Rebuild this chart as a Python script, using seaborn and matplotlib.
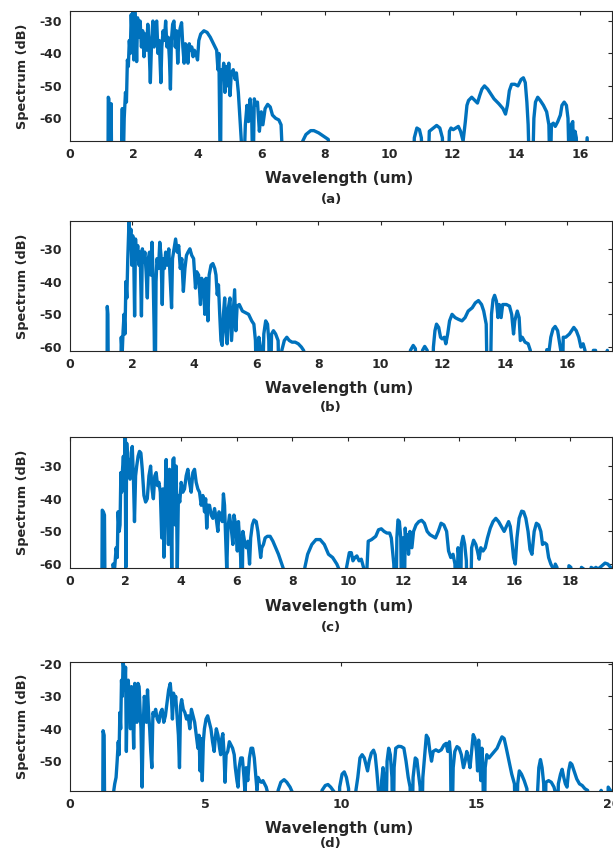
import numpy as np
import pandas as pd
import matplotlib
matplotlib.use('Agg')
import matplotlib.pyplot as plt
import seaborn as sns

sns.set_theme(style='white')
plt.rcParams['font.family'] = ['DejaVu Sans']
plt.rcParams['font.weight'] = 'bold'
plt.rcParams['axes.unicode_minus'] = False

# spectra: (wavelength um, dB); -80 = below the axis
spec_a = [
    (1.00, -80), (1.19, -80), (1.20, -53.5), (1.22, -54), (1.23, -80), (1.27, -80), (1.29, -55.5), (1.31, -80),
    (1.60, -80), (1.64, -57), (1.66, -80), (1.70, -60), (1.74, -52), (1.77, -55), (1.80, -42), (1.83, -44),
    (1.86, -36), (1.89, -40), (1.92, -28), (1.95, -35), (1.98, -27), (2.00, -42), (2.03, -26.8), (2.06, -31),
    (2.09, -42.5), (2.12, -29), (2.16, -35), (2.20, -30), (2.24, -38), (2.28, -33), (2.32, -41), (2.36, -34),
    (2.40, -39), (2.44, -31), (2.48, -38), (2.52, -49), (2.56, -36), (2.60, -30), (2.64, -38), (2.68, -31),
    (2.72, -30), (2.76, -40), (2.80, -36), (2.85, -49), (2.88, -38), (2.92, -33), (2.96, -36), (3.00, -30),
    (3.04, -38), (3.08, -35), (3.12, -42), (3.15, -51), (3.18, -36), (3.22, -31), (3.26, -30), (3.30, -38),
    (3.34, -33), (3.38, -43), (3.42, -34), (3.46, -32), (3.50, -30.5), (3.54, -38), (3.58, -43), (3.62, -37),
    (3.66, -38), (3.70, -43), (3.74, -37), (3.78, -39), (3.82, -38), (3.86, -41), (3.90, -39), (3.95, -40),
    (4.00, -42), (4.04, -36), (4.10, -34), (4.20, -33), (4.30, -33.5), (4.40, -35), (4.50, -37), (4.60, -39),
    (4.64, -45), (4.67, -40), (4.70, -66), (4.72, -80), (4.74, -45), (4.78, -48), (4.82, -43), (4.86, -52),
    (4.90, -44), (4.94, -50), (4.98, -43), (5.02, -53), (5.06, -46), (5.12, -45), (5.18, -48), (5.22, -46),
    (5.28, -52), (5.33, -60), (5.38, -68), (5.44, -80), (5.50, -62), (5.55, -56), (5.60, -61), (5.65, -54),
    (5.70, -60), (5.74, -80), (5.78, -54), (5.83, -56), (5.88, -55), (5.94, -64), (6.00, -58), (6.05, -62),
    (6.12, -57), (6.20, -55.7), (6.28, -56.5), (6.35, -59), (6.45, -60), (6.55, -60.5), (6.62, -62), (6.70, -80),
    (7.25, -80), (7.30, -67), (7.40, -65), (7.55, -63.8), (7.65, -63.8), (7.80, -64.5), (7.95, -65.5), (8.10, -66.5),
    (8.20, -80), (10.75, -80), (10.80, -66), (10.88, -63), (10.96, -63.5), (11.02, -66), (11.08, -80), (11.22, -80),
    (11.27, -64), (11.40, -63), (11.50, -62.2), (11.60, -63), (11.68, -66), (11.72, -80), (11.85, -80), (11.90, -64),
    (11.95, -63), (12.02, -63.5), (12.10, -63), (12.18, -62.5), (12.25, -64), (12.33, -67), (12.40, -61), (12.45, -56),
    (12.50, -54.5), (12.60, -53.5), (12.70, -54.5), (12.78, -55.3), (12.85, -53), (12.92, -51), (13.00, -50),
    (13.10, -51), (13.20, -52.5), (13.30, -54), (13.45, -55.5), (13.58, -57), (13.66, -58.7), (13.72, -56),
    (13.78, -51.5), (13.85, -49.5), (13.95, -49.5), (14.05, -50), (14.15, -48), (14.22, -47.5), (14.28, -49),
    (14.33, -55), (14.37, -62), (14.42, -80), (14.50, -80), (14.55, -60), (14.60, -55), (14.67, -53.5),
    (14.75, -54.5), (14.85, -56), (14.95, -58), (15.02, -62), (15.06, -80), (15.10, -62), (15.16, -61.5),
    (15.22, -62.5), (15.30, -61), (15.38, -59), (15.43, -56), (15.50, -55), (15.57, -56), (15.62, -60),
    (15.67, -80), (15.72, -62), (15.77, -61), (15.81, -80), (15.84, -64), (15.88, -66), (15.92, -80),
    (16.15, -80), (16.22, -66), (16.28, -80), (17.0, -80)]

spec_b = [
    (1.00, -80), (1.19, -80), (1.20, -47.6), (1.22, -50), (1.24, -80),
    (1.62, -80), (1.65, -57), (1.68, -62), (1.71, -55), (1.74, -50), (1.77, -56), (1.80, -40), (1.83, -45),
    (1.86, -33), (1.90, -21.5), (1.93, -28), (1.96, -24), (1.99, -35), (2.02, -26), (2.05, -31), (2.08, -50.5),
    (2.11, -27), (2.14, -33), (2.18, -29), (2.22, -35), (2.26, -31), (2.30, -50.5), (2.33, -30), (2.37, -34),
    (2.41, -31), (2.45, -37), (2.49, -45), (2.52, -33), (2.56, -31), (2.60, -38), (2.64, -28), (2.68, -40),
    (2.71, -55), (2.74, -80), (2.77, -40), (2.80, -33), (2.85, -36), (2.89, -28), (2.93, -32), (2.97, -47),
    (3.00, -33), (3.04, -36), (3.08, -31), (3.13, -35), (3.18, -30), (3.22, -38), (3.27, -48), (3.30, -33),
    (3.35, -30), (3.40, -27), (3.45, -31), (3.50, -29), (3.55, -36), (3.60, -33), (3.65, -43), (3.70, -36),
    (3.75, -32), (3.80, -31), (3.86, -30), (3.92, -32), (3.98, -33), (4.04, -42), (4.08, -37), (4.14, -38),
    (4.20, -47), (4.24, -39), (4.30, -41), (4.34, -50), (4.38, -39), (4.44, -52), (4.48, -38), (4.54, -35),
    (4.60, -34.5), (4.66, -36), (4.70, -38), (4.74, -44), (4.78, -41), (4.82, -50), (4.86, -58), (4.90, -59.5),
    (4.94, -50), (4.98, -45), (5.02, -55), (5.06, -59), (5.10, -48), (5.15, -45), (5.20, -58), (5.25, -50),
    (5.30, -42.5), (5.34, -55), (5.38, -47.5), (5.45, -47), (5.55, -49), (5.65, -49.5), (5.75, -50), (5.85, -52),
    (5.92, -53), (5.97, -58), (6.02, -80), (6.08, -57), (6.13, -60), (6.18, -80), (6.24, -56), (6.30, -52),
    (6.36, -53), (6.40, -58), (6.44, -80), (6.49, -56), (6.55, -55), (6.62, -56), (6.70, -58), (6.75, -80),
    (6.82, -61), (6.90, -58), (6.98, -57), (7.06, -58), (7.15, -58.5), (7.25, -58.5), (7.35, -59), (7.45, -60),
    (7.52, -61), (7.55, -62), (7.58, -80),
    (10.90, -80), (10.96, -61), (11.05, -59.5), (11.12, -60.5), (11.18, -80), (11.30, -80), (11.35, -61),
    (11.42, -59.8), (11.50, -61), (11.55, -80), (11.65, -80), (11.70, -60), (11.75, -55), (11.80, -53),
    (11.87, -54), (11.93, -57), (11.98, -57.5), (12.05, -57), (12.10, -59), (12.16, -56), (12.22, -52),
    (12.30, -50), (12.40, -51), (12.50, -51.5), (12.62, -52), (12.72, -51), (12.82, -49), (12.95, -48),
    (13.05, -46.5), (13.15, -45.8), (13.25, -47), (13.32, -49), (13.40, -53), (13.45, -80), (13.52, -80),
    (13.57, -50), (13.62, -45.5), (13.67, -44.2), (13.73, -46), (13.78, -51), (13.82, -47), (13.88, -51),
    (13.93, -47), (14.05, -47), (14.15, -47.5), (14.22, -50), (14.28, -56), (14.32, -52), (14.40, -49),
    (14.46, -51), (14.50, -58), (14.56, -57), (14.65, -58.5), (14.75, -59), (14.82, -61), (14.87, -80),
    (15.30, -80), (15.35, -60.8), (15.42, -61.5), (15.48, -57), (15.55, -54.5), (15.62, -53.7), (15.70, -55),
    (15.75, -58), (15.80, -61), (15.84, -80), (15.88, -57), (15.96, -57), (16.08, -56), (16.22, -54),
    (16.30, -55), (16.38, -57), (16.45, -60), (16.52, -59), (16.58, -61), (16.63, -80), (16.82, -80),
    (16.85, -61), (16.92, -61), (16.98, -80), (17.25, -80), (17.30, -61), (17.35, -80), (17.5, -80)]

spec_c = [
    (1.00, -80), (1.14, -80), (1.16, -43.5), (1.20, -44), (1.24, -45), (1.27, -80),
    (1.50, -80), (1.55, -60), (1.60, -62), (1.66, -55), (1.70, -58), (1.73, -44), (1.77, -50), (1.80, -48),
    (1.83, -32), (1.86, -38), (1.89, -31), (1.92, -27), (1.95, -34), (1.98, -21), (2.01, -61), (2.04, -23),
    (2.08, -30), (2.12, -28), (2.16, -34), (2.20, -26), (2.24, -24), (2.28, -33), (2.32, -47), (2.36, -33),
    (2.40, -30), (2.45, -27), (2.50, -25.5), (2.55, -26), (2.60, -31), (2.66, -39), (2.72, -41), (2.78, -40),
    (2.84, -33), (2.90, -30), (2.95, -37), (3.00, -40), (3.05, -33), (3.10, -32), (3.15, -36), (3.20, -35),
    (3.25, -38), (3.30, -52), (3.34, -37), (3.38, -57.9), (3.42, -40), (3.46, -28), (3.50, -42), (3.54, -54),
    (3.58, -31), (3.62, -36), (3.66, -62), (3.70, -28), (3.74, -27.5), (3.78, -48), (3.82, -30), (3.86, -62),
    (3.90, -39), (3.95, -41), (4.00, -35), (4.06, -38), (4.12, -37), (4.18, -33), (4.24, -31), (4.30, -35),
    (4.36, -38), (4.42, -32), (4.48, -31), (4.54, -35), (4.60, -37), (4.66, -38), (4.72, -42), (4.78, -39),
    (4.84, -44), (4.88, -40), (4.92, -49), (4.96, -42), (5.02, -42), (5.08, -45), (5.14, -46), (5.20, -43),
    (5.26, -46), (5.32, -50), (5.36, -44), (5.42, -45), (5.48, -47), (5.52, -38.5), (5.56, -42), (5.60, -52),
    (5.64, -62), (5.68, -49), (5.74, -45), (5.80, -49), (5.86, -54), (5.90, -45), (5.96, -48), (6.02, -56),
    (6.06, -47), (6.10, -52), (6.14, -58), (6.18, -80), (6.22, -50), (6.28, -53), (6.34, -55), (6.40, -53),
    (6.46, -60), (6.50, -52), (6.56, -48), (6.62, -46.5), (6.70, -47), (6.76, -50), (6.82, -55), (6.86, -58),
    (6.90, -55), (6.96, -54), (7.02, -52), (7.10, -51.5), (7.20, -51.5), (7.30, -53), (7.40, -55), (7.50, -57),
    (7.60, -59.5), (7.70, -62), (7.75, -80),
    (8.40, -80), (8.45, -61), (8.55, -57), (8.70, -54), (8.85, -52.5), (9.00, -52.5), (9.15, -54), (9.30, -57),
    (9.45, -58), (9.60, -60), (9.70, -62), (9.75, -80),
    (9.90, -80), (9.95, -61), (10.05, -56.5), (10.12, -56.5), (10.18, -59), (10.25, -58), (10.32, -57.5),
    (10.40, -59), (10.48, -58.5), (10.56, -61), (10.62, -80),
    (10.68, -62), (10.73, -53), (10.85, -52.5), (11.00, -51.5), (11.10, -49.5), (11.20, -49.2), (11.30, -50),
    (11.40, -50.5), (11.50, -50.5), (11.56, -52), (11.65, -60), (11.72, -80), (11.76, -52), (11.80, -46.5),
    (11.85, -47), (11.90, -52), (11.94, -80), (11.98, -52), (12.02, -80), (12.06, -49), (12.10, -54),
    (12.14, -51), (12.18, -57), (12.23, -50), (12.30, -55), (12.36, -50), (12.45, -48), (12.55, -47),
    (12.65, -46.6), (12.75, -47.5), (12.85, -50), (12.95, -51), (13.05, -51.5), (13.15, -52), (13.25, -50),
    (13.35, -47.5), (13.45, -48), (13.55, -50), (13.62, -56), (13.70, -58), (13.78, -57), (13.85, -60),
    (13.90, -80), (13.96, -55), (14.00, -58), (14.04, -80), (14.08, -54), (14.14, -51.5), (14.20, -54),
    (14.26, -59), (14.30, -80), (14.40, -80), (14.45, -55), (14.52, -52.7), (14.60, -54), (14.66, -56),
    (14.72, -58.5), (14.78, -55), (14.86, -56), (14.94, -55), (15.02, -52), (15.12, -49), (15.22, -47),
    (15.32, -46), (15.42, -47), (15.52, -48.5), (15.62, -50), (15.70, -48.5), (15.78, -47), (15.84, -48.5),
    (15.90, -53), (15.96, -58), (16.02, -60), (16.08, -52), (16.16, -46), (16.25, -43.8), (16.32, -44),
    (16.40, -46), (16.48, -50), (16.55, -55.5), (16.62, -57), (16.70, -50), (16.78, -47.5), (16.86, -48),
    (16.94, -50), (17.00, -54), (17.08, -53.5), (17.15, -54), (17.22, -58), (17.30, -60), (17.36, -61),
    (17.40, -80), (17.46, -60), (17.52, -61), (17.56, -80),
    (17.90, -80), (17.95, -60.5), (18.02, -61), (18.06, -80), (18.35, -80), (18.40, -61), (18.48, -61.5),
    (18.52, -80), (18.70, -80), (18.75, -61), (18.85, -61.5), (18.92, -61), (19.00, -61.5), (19.10, -60.8),
    (19.25, -59.7), (19.35, -60), (19.45, -61), (19.50, -62)]

spec_d = [
    (1.00, -80), (1.20, -80), (1.22, -40.6), (1.26, -42), (1.29, -80),
    (1.55, -80), (1.60, -60), (1.65, -57), (1.70, -55), (1.74, -50), (1.78, -44), (1.81, -48), (1.84, -35),
    (1.87, -40), (1.90, -25), (1.93, -30), (1.96, -19), (1.99, -22), (2.02, -28), (2.05, -21), (2.08, -47),
    (2.11, -28), (2.15, -25), (2.19, -32), (2.23, -40), (2.27, -27), (2.31, -33), (2.35, -46), (2.39, -26),
    (2.43, -30), (2.47, -38), (2.51, -26), (2.55, -27), (2.59, -35), (2.62, -40), (2.66, -58), (2.70, -40),
    (2.74, -30), (2.78, -32), (2.82, -38), (2.86, -28), (2.90, -35), (2.94, -40), (2.98, -47), (3.02, -52),
    (3.06, -35), (3.10, -36), (3.16, -34), (3.22, -37), (3.28, -38), (3.34, -35), (3.40, -34), (3.46, -38),
    (3.52, -36), (3.58, -32), (3.64, -28), (3.70, -26), (3.74, -30), (3.78, -37), (3.82, -29), (3.86, -32),
    (3.90, -30), (3.96, -37), (4.00, -42), (4.04, -52), (4.08, -33), (4.12, -31), (4.18, -34), (4.24, -35),
    (4.30, -37), (4.36, -36), (4.42, -40), (4.48, -34), (4.54, -36), (4.60, -38), (4.66, -42), (4.72, -46),
    (4.76, -42), (4.80, -53), (4.84, -43), (4.88, -56), (4.92, -44), (4.96, -40), (5.02, -37), (5.08, -36),
    (5.14, -38), (5.20, -40), (5.26, -44), (5.32, -47), (5.36, -43), (5.40, -40), (5.46, -42), (5.52, -46),
    (5.56, -48), (5.60, -43), (5.64, -41.5), (5.68, -47), (5.72, -56.5), (5.76, -48), (5.82, -47), (5.88, -44),
    (5.94, -45), (6.00, -46), (6.06, -48), (6.10, -52), (6.16, -56), (6.20, -58), (6.24, -52), (6.30, -49),
    (6.36, -49), (6.42, -55), (6.46, -60), (6.50, -52), (6.56, -56), (6.62, -49), (6.68, -46), (6.74, -46),
    (6.80, -49), (6.86, -55), (6.90, -59), (6.94, -55), (7.00, -56), (7.06, -56.5), (7.12, -56), (7.18, -57),
    (7.24, -58), (7.30, -60), (7.34, -80),
    (7.62, -80), (7.68, -59), (7.78, -56.5), (7.90, -55.7), (8.00, -56.5), (8.12, -58), (8.20, -59.5), (8.25, -80),
    (9.25, -80), (9.30, -59), (9.42, -57.5), (9.52, -57.2), (9.62, -58), (9.75, -59.5), (9.82, -80),
    (9.90, -80), (9.95, -58), (10.04, -54), (10.12, -53.3), (10.20, -55), (10.28, -58.5), (10.32, -80),
    (10.50, -80), (10.55, -59), (10.62, -55), (10.70, -49), (10.78, -48), (10.86, -49), (10.92, -51),
    (10.98, -53), (11.04, -50), (11.12, -47.5), (11.20, -46.6), (11.26, -48), (11.32, -53), (11.38, -59),
    (11.44, -80), (11.50, -56), (11.55, -52), (11.60, -56), (11.64, -80), (11.70, -50), (11.76, -46),
    (11.82, -48), (11.88, -55), (11.92, -80), (11.96, -52), (12.02, -46), (12.12, -45.4), (12.22, -45.5),
    (12.32, -46), (12.40, -50), (12.48, -55), (12.55, -58), (12.60, -80), (12.66, -55), (12.74, -49),
    (12.80, -49.5), (12.86, -54), (12.92, -58), (12.96, -80), (13.02, -55), (13.08, -49), (13.15, -42),
    (13.22, -43), (13.28, -47), (13.34, -50), (13.40, -47), (13.50, -46.5), (13.60, -47), (13.70, -46.5),
    (13.80, -45), (13.88, -44.5), (13.94, -47), (14.00, -44), (14.04, -48), (14.08, -80), (14.14, -52),
    (14.20, -47), (14.28, -45.5), (14.36, -46), (14.44, -48), (14.52, -52), (14.58, -50), (14.64, -47),
    (14.70, -49), (14.76, -52), (14.82, -47), (14.88, -41.8), (14.94, -43), (15.00, -47), (15.04, -53),
    (15.08, -43.5), (15.12, -50), (15.16, -56), (15.20, -46), (15.24, -55), (15.28, -80), (15.32, -52),
    (15.38, -48), (15.46, -49), (15.56, -48), (15.66, -47), (15.76, -46), (15.86, -44), (15.94, -42.5),
    (16.02, -43), (16.10, -46), (16.20, -50), (16.30, -54), (16.40, -57), (16.46, -80), (16.52, -57),
    (16.58, -53), (16.66, -54), (16.76, -56), (16.86, -58.5), (16.92, -80),
    (17.20, -80), (17.25, -60), (17.30, -52), (17.36, -49.5), (17.42, -52), (17.48, -57), (17.52, -80),
    (17.56, -56.5), (17.66, -56), (17.76, -56.5), (17.86, -58), (17.92, -60), (17.96, -80), (18.02, -57),
    (18.10, -54), (18.16, -52.5), (18.22, -55), (18.28, -57), (18.34, -58), (18.40, -53), (18.46, -50.5),
    (18.52, -51), (18.60, -53), (18.70, -55.5), (18.80, -57), (18.90, -57.5), (19.00, -58.5), (19.10, -59),
    (19.16, -80), (19.55, -80), (19.60, -59), (19.66, -80), (19.82, -80), (19.86, -58), (19.94, -59),
    (20.00, -59.5)]

letters = ['(a)', '(b)', '(c)', '(d)']
x_max = [17.0, 17.45, 19.5, 20.0]
y_lims = [(-67, -26.9), (-61.2, -21.5), (-61.2, -21.1), (-59.2, -19.4)]
x_ticks = [np.arange(0, 17, 2), np.arange(0, 17, 2), np.arange(0, 19, 2), np.arange(0, 21, 5)]
y_ticks = [[-60, -50, -40, -30], [-60, -50, -40, -30], [-60, -50, -40, -30], [-50, -40, -30, -20]]

# pixel layout of the original figure
W, H = 613, 851
ax_top = [11, 221, 437, 662]
ax_bot = [141, 351, 568, 791]
xlab_y = [179, 388, 606, 828]
let_y = [199, 408, 627, 844]

blue = '#0072BD'
dark = '#262626'

fig = plt.figure(figsize=(W / 100, H / 100), dpi=100)

specs = [spec_a, spec_b, spec_c, spec_d]
for i, spec in enumerate(specs):
    ax = fig.add_axes([70 / W, 1 - ax_bot[i] / H, 542 / W, (ax_bot[i] - ax_top[i]) / H])
    df = pd.DataFrame(spec, columns=['wl', 'db'])
    sns.lineplot(data=df, x='wl', y='db', ax=ax, color=blue, lw=2.4,
                 estimator=None, sort=False)
    ax.set_xlim(0, x_max[i])
    ax.set_ylim(*y_lims[i])
    ax.set_xticks(x_ticks[i])
    ax.set_yticks(y_ticks[i])
    ax.set_xlabel('')
    ax.set_ylabel('')
    ax.tick_params(axis='both', direction='in', length=3, width=0.8, top=True, right=True,
                   labelsize=9, colors=dark)
    ax.tick_params(axis='x', pad=5)
    ax.tick_params(axis='y', pad=6)
    for lab in ax.get_xticklabels() + ax.get_yticklabels():
        lab.set_fontweight('bold')
    for sp in ax.spines.values():
        sp.set_color(dark)
        sp.set_linewidth(0.8)

    fig.text(339 / W, 1 - xlab_y[i] / H, 'Wavelength (um)', ha='center', va='center',
             fontsize=11, fontweight='bold', color=dark)
    fig.text(331 / W, 1 - let_y[i] / H, letters[i], ha='center', va='center',
             fontsize=9.5, fontweight='bold', color=dark)
    fig.text(23 / W, 1 - (ax_top[i] + ax_bot[i]) / 2 / H, 'Spectrum (dB)', rotation=90,
             ha='center', va='center', fontsize=9.3, fontweight='bold', color=dark)

fig.savefig('out.png', dpi=100)
